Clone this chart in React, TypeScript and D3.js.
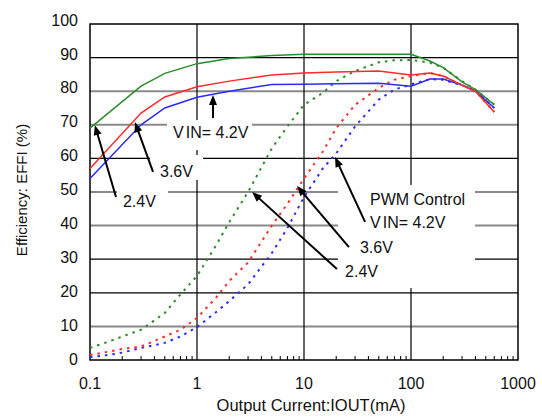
import React from "react";
import * as d3 from "d3";

// ---- data ----
const currentsAuto = [0.1, 0.3, 0.5, 1, 2, 5, 10, 20, 50, 100, 150, 200, 300, 400, 600];
const autoVin24 = [69, 81.5, 85.3, 88.2, 89.7, 90.6, 91, 91, 91, 91, 89, 87, 82.8, 80.5, 76];
const autoVin36 = [57, 73.5, 78.3, 81.3, 83, 84.8, 85.4, 85.7, 86, 84.8, 85.4, 84.5, 81.8, 80, 73.8];
const autoVin42 = [54, 70, 75, 78.2, 80, 82, 82.1, 82.2, 82.4, 81.5, 83.6, 83.6, 81.8, 80, 75];

const currentsPwm = [0.1, 0.15, 0.2, 0.3, 0.5, 0.7, 1, 1.5, 2, 3, 5, 7, 10, 15, 20, 30, 50, 70, 100, 150, 200, 300, 400, 600];
const pwmVin24 = [3.6, 5.5, 7, 9, 14, 19.5, 25, 34, 41, 50, 63, 69.5, 76, 79.5, 83, 86, 88.6, 89.2, 89.3, 88.5, 87, 83, 80.5, 76];
const pwmVin36 = [1.5, 2.5, 3.3, 4, 7, 9, 12.5, 18.5, 23.5, 29, 40, 46.5, 54, 62, 69, 75.9, 81, 83.4, 84.5, 85.4, 84.5, 81.8, 80, 73.8];
const pwmVin42 = [0.9, 1.5, 2.2, 3.6, 5.1, 7, 9.8, 14.2, 17.5, 22.5, 31.8, 39.3, 48.5, 57, 61.5, 69.5, 77.5, 80.5, 82, 83.6, 83.4, 81.8, 80.2, 75];

const xTicks = [0.1, 1, 10, 100, 1000];
const xTickLabels = ["0.1", "1", "10", "100", "1000"];
const yTicks = [0, 10, 20, 30, 40, 50, 60, 70, 80, 90, 100];
const grayGrid = [10, 40, 50, 70, 80];
const blackGrid = [20, 30, 60, 90];
const vGrid = [1, 10, 100];

const xTitle = "Output Current:IOUT(mA)";
const yTitle = "Efficiency: EFFI (%)";

// annotations in data coordinates (mA, %)
const boxes = [
  { x0: 0.524, x1: 3.27, y0: 71.4, y1: 62.5 },
  { x0: 0.364, x1: 1.138, y0: 61.0, y1: 53.6 },
  { x0: 0.179, x1: 0.535, y0: 51.8, y1: 44.0 },
  { x0: 20.8, x1: 396, y0: 52.1, y1: 21.4 },
];
const labels = [
  { x: 0.597, y: 66.1, text: "VIN" },
  { x: 0.451, y: 54.5, text: "3.6V" },
  { x: 0.203, y: 45.5, text: "2.4V" },
  { x: 41.4, y: 46.1, text: "PWM Control" },
  { x: 41.4, y: 39.3, text: "VIN" },
  { x: 33.3, y: 31.8, text: "3.6V" },
  { x: 24.2, y: 24.7, text: "2.4V" },
];
const arrows = [
  { x0: 1.411, y0: 72.0, x1: 1.411, y1: 78.9 },
  { x0: 0.388, y0: 56.0, x1: 0.263, y1: 70.8 },
  { x0: 0.175, y0: 48.5, x1: 0.111, y1: 69.9 },
  { x0: 37.2, y0: 41.1, x1: 19.5, y1: 60.4 },
  { x0: 26.3, y0: 33.6, x1: 8.6, y1: 51.8 },
  { x0: 20.3, y0: 27.1, x1: 3.27, y1: 50 },
];

const GREEN = "#2a8c2a";
const RED = "#ff2a2a";
const BLUE = "#2a2aff";
const FONT = "'Liberation Sans', Arial, sans-serif";

export default function App() {
  const W = 542, H = 417;
  const x = d3.scaleLog().domain([0.1, 1000]).range([90, 518]);
  const y = d3.scaleLinear().domain([0, 100]).range([360, 24]);
  const yLab = d3.scaleLinear().domain([0, 100]).range([359, 20]);

  const line = d3
    .line<[number, number]>()
    .x((d) => x(d[0]))
    .y((d) => y(d[1]));

  const zip = (xs: number[], ys: number[]) => xs.map((v, i) => [v, ys[i]] as [number, number]);

  const autoSeries = [
    { data: autoVin42, color: BLUE },
    { data: autoVin36, color: RED },
    { data: autoVin24, color: GREEN },
  ];
  const pwmSeries = [
    { data: pwmVin42, color: BLUE },
    { data: pwmVin36, color: RED },
    { data: pwmVin24, color: GREEN },
  ];

  const minor: number[] = [];
  [0.1, 1, 10, 100].forEach((dec) => {
    for (let k = 2; k <= 9; k++) minor.push(dec * k);
  });

  const [x0, x1] = x.range();
  const [yb, yt] = y.range();

  const renderArrow = (a: typeof arrows[number], i: number) => {
    const ax = x(a.x0), ay = y(a.y0), bx = x(a.x1), by = y(a.y1);
    const dx = bx - ax, dy = by - ay;
    const len = Math.hypot(dx, dy);
    const ux = dx / len, uy = dy / len;
    const hl = 10, hw = 4;
    const baseX = bx - ux * hl, baseY = by - uy * hl;
    const pts = [
      [bx, by],
      [baseX - uy * hw, baseY + ux * hw],
      [baseX + uy * hw, baseY - ux * hw],
    ]
      .map((p) => p.join(","))
      .join(" ");
    return (
      <g key={"ar" + i}>
        <line x1={ax} y1={ay} x2={baseX + ux * 2} y2={baseY + uy * 2} stroke="#000" strokeWidth={2} />
        <polygon points={pts} fill="#000" />
      </g>
    );
  };

  return (
    <svg width={W} height={H} style={{ position: "absolute", left: 0, top: 0, background: "#fff" }}>
      <rect x={0} y={0} width={W} height={H} fill="#fff" />
      {/* horizontal grid */}
      {grayGrid.map((v) => (
        <line key={"g" + v} x1={x0} x2={x1} y1={y(v)} y2={y(v)} stroke="#8a8a8a" strokeWidth={2} />
      ))}
      {blackGrid.map((v) => (
        <line key={"b" + v} x1={x0} x2={x1} y1={y(v)} y2={y(v)} stroke="#000" strokeWidth={1.2} />
      ))}
      {vGrid.map((v) => (
        <line key={"v" + v} x1={x(v)} x2={x(v)} y1={yt} y2={yb} stroke="#000" strokeWidth={1.2} />
      ))}
      {minor.map((v, i) => (
        <line key={"m" + i} x1={x(v)} x2={x(v)} y1={yb} y2={yb - 4} stroke="#000" strokeWidth={1} />
      ))}
      {/* white boxes behind annotation text */}
      {boxes.map((b, i) => (
        <rect key={"bx" + i} x={x(b.x0)} y={y(b.y0)} width={x(b.x1) - x(b.x0)} height={y(b.y1) - y(b.y0)} fill="#fff" />
      ))}
      <rect x={x0} y={yt} width={x1 - x0} height={yb - yt} fill="none" stroke="#000" strokeWidth={1.5} />

      {/* curves */}
      {pwmSeries.map((s, i) => (
        <path
          key={"p" + i}
          d={line(zip(currentsPwm, s.data)) || ""}
          fill="none"
          stroke={s.color}
          strokeWidth={2}
          strokeDasharray="2.5,5"
        />
      ))}
      {autoSeries.map((s, i) => (
        <path key={"a" + i} d={line(zip(currentsAuto, s.data)) || ""} fill="none" stroke={s.color} strokeWidth={1.5} />
      ))}

      {/* annotations */}
      {arrows.map(renderArrow)}
      {labels.map((l, i) => (
        <text key={"l" + i} x={x(l.x)} y={y(l.y)} fontFamily={FONT} fontSize={16} fill="#111">
          {l.text === "VIN" ? (
            <>
              <tspan>V</tspan>
              <tspan dx={2}>IN= 4.2V</tspan>
            </>
          ) : (
            l.text
          )}
        </text>
      ))}

      {/* axis labels */}
      {yTicks.map((v) => (
        <text key={"yt" + v} x={78} y={yLab(v)} dy="0.35em" textAnchor="end" fontFamily={FONT} fontSize={16} fill="#111">
          {v}
        </text>
      ))}
      {xTicks.map((v, i) => (
        <text key={"xt" + v} x={x(v)} y={389} textAnchor="middle" fontFamily={FONT} fontSize={16} fill="#111">
          {xTickLabels[i]}
        </text>
      ))}
      <text x={311} y={411} textAnchor="middle" fontFamily={FONT} fontSize={16.5} fill="#111">
        {xTitle}
      </text>
      <text
        transform="translate(27,190) rotate(-90)"
        textAnchor="middle"
        fontFamily={FONT}
        fontSize={15}
        fill="#111"
      >
        {yTitle}
      </text>
    </svg>
  );
}
